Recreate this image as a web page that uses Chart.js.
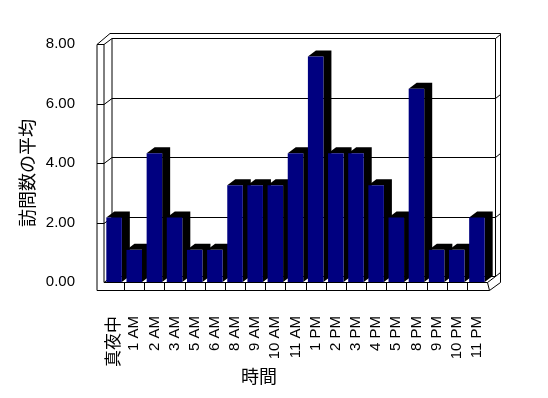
<!DOCTYPE html>
<html lang="ja">
<head>
<meta charset="UTF-8">
<title>訪問数の平均</title>
<script src="https://cdn.jsdelivr.net/npm/chart.js"></script>
<style>
  body { margin: 0; background: #ffffff; }
  canvas { display: block; }
</style>
</head>
<body>
<canvas id="chart" width="548" height="398"></canvas>
<script>
const hours = ["真夜中", "1 AM", "2 AM", "3 AM", "5 AM", "6 AM", "8 AM", "9 AM", "10 AM", "11 AM",
               "1 PM", "2 PM", "3 PM", "4 PM", "5 PM", "8 PM", "9 PM", "10 PM", "11 PM"];
const avgVisits = [2.17, 1.08, 4.33, 2.17, 1.08, 1.08, 3.25, 3.25, 3.25, 4.33,
                   7.58, 4.33, 4.33, 3.25, 2.17, 6.5, 1.08, 1.08, 2.17];
const yTicks = [0, 2, 4, 6, 8];

const latin = "'Liberation Sans', Arial, 'Noto Sans CJK JP', sans-serif";
const cjk = "'Noto Sans CJK JP', sans-serif";

// depth of the 3d box
const DX = 8, DY = -6;

function line(ctx, pts) {
    ctx.beginPath();
    ctx.moveTo(pts[0][0], pts[0][1]);
    for (let i = 1; i < pts.length; i++) ctx.lineTo(pts[i][0], pts[i][1]);
    ctx.stroke();
}

const box3d = {
    id: 'box3d',
    beforeDatasetsDraw(chart) {
        const ctx = chart.ctx;
        const a = chart.chartArea;
        const y = chart.scales.y;
        const L = a.left, R = a.right + 0.5;
        const T = Math.round(y.getPixelForValue(8)) + 0.5;
        const B = Math.round(y.getPixelForValue(0)) + 0.5;
        const oL = L - 7;
        const oR = R + DX + 5;
        ctx.save();
        ctx.strokeStyle = '#000';
        ctx.lineWidth = 1;

        // walls
        line(ctx, [[oL, B + 8], [oL, T], [L, T]]);
        line(ctx, [[L, T], [L, B]]);
        line(ctx, [[L + DX, T + DY], [L + DX, B + DY]]);
        line(ctx, [[oL, T], [L + DX - 2, T + DY - 5], [oR, T + DY - 5], [oR, B + DY + 6], [R + 2, B + 8]]);
        line(ctx, [[R + DX, T + DY], [R + DX, B + DY]]);

        // gridlines on the back wall, with their run over the side walls
        yTicks.forEach(v => {
            const py = Math.round(y.getPixelForValue(v)) + 0.5;
            if (v > 0) line(ctx, [[oL, py], [L, py]]);
            line(ctx, [[L, py], [L + DX, py + DY], [R + DX, py + DY], [oR, py + DY - 4]]);
        });

        // floor
        line(ctx, [[L, B], [R, B], [R + DX, B + DY]]);
        line(ctx, [[oL, B + 8], [R + 2, B + 8]]);
        line(ctx, [[R, B], [R + 2, B + 8]]);
        const step = (a.right - a.left) / hours.length;
        for (let i = 1; i < hours.length; i++) {
            const px = Math.round(L + i * step) + 0.5;
            line(ctx, [[px, B], [px, B + 8]]);
        }

        // bar sides and tops
        ctx.fillStyle = '#000';
        chart.getDatasetMeta(0).data.forEach(bar => {
            const x0 = bar.x - bar.width / 2, x1 = bar.x + bar.width / 2;
            ctx.beginPath();
            ctx.moveTo(x0, bar.y);
            ctx.lineTo(x0 + DX, bar.y + DY);
            ctx.lineTo(x1 + DX, bar.y + DY);
            ctx.lineTo(x1 + DX, bar.base + DY);
            ctx.lineTo(x1, bar.base);
            ctx.lineTo(x1, bar.y);
            ctx.closePath();
            ctx.fill();
        });
        ctx.restore();
    },
    afterDraw(chart) {
        const ctx = chart.ctx;
        ctx.save();
        ctx.fillStyle = '#000';
        ctx.font = '18px ' + cjk;
        ctx.textAlign = 'center';
        ctx.textBaseline = 'middle';
        ctx.fillText('時間', 259, 376);
        ctx.translate(27, 173);
        ctx.rotate(-Math.PI / 2);
        ctx.fillText('訪問数の平均', 0, 0);
        ctx.restore();
    }
};

new Chart(document.getElementById('chart'), {
    type: 'bar',
    data: {
        labels: hours,
        datasets: [{
            data: avgVisits,
            backgroundColor: '#000080',
            borderWidth: 0,
            categoryPercentage: 1,
            barPercentage: 0.77
        }]
    },
    options: {
        responsive: false,
        animation: false,
        layout: { padding: { left: 0, top: 44, right: 61, bottom: 0 } },
        plugins: { legend: { display: false }, tooltip: { enabled: false } },
        scales: {
            x: {
                grid: { display: false },
                border: { display: false },
                ticks: {
                    autoSkip: false,
                    minRotation: 90,
                    maxRotation: 90,
                    padding: 26,
                    color: '#000',
                    font: c => ({ family: latin, size: c.index === 0 ? 17 : 15 })
                },
                afterFit(scale) { scale.height = 116; }
            },
            y: {
                min: 0,
                max: 8,
                grid: { display: false },
                border: { display: false },
                ticks: {
                    stepSize: 2,
                    padding: 21,
                    color: '#000',
                    font: { family: latin, size: 15 },
                    callback: v => v.toFixed(2)
                },
                afterFit(scale) { scale.width = 104; }
            }
        }
    },
    plugins: [box3d]
});
</script>
</body>
</html>
